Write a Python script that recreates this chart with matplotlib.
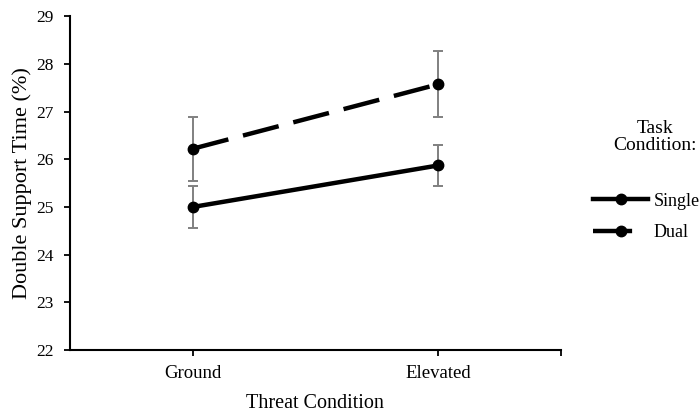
import matplotlib.pyplot as plt
from matplotlib.lines import Line2D

plt.rcParams['font.family'] = ['Liberation Serif', 'DejaVu Serif']

# data
conditions = ['Ground', 'Elevated']
single = [25.0, 25.87]
single_err = [0.43, 0.42]
dual = [26.22, 27.57]
dual_err = [0.67, 0.69]

fig = plt.figure(figsize=(7, 4.12), dpi=100)
ax = fig.add_axes([0.1, 0.15, 0.701, 0.811])

dash = (8.3, 3.4)
x = range(len(conditions))
ax.errorbar(x, single, yerr=single_err, fmt='none', ecolor='#808080',
            elinewidth=1.4, capsize=3.5, capthick=1.4, zorder=1)
ax.errorbar(x, dual, yerr=dual_err, fmt='none', ecolor='#808080',
            elinewidth=1.4, capsize=3.5, capthick=1.4, zorder=1)
ax.plot(x, single, color='black', lw=3.2, marker='o', ms=7.5, zorder=3)
ax.plot(x, dual, color='black', lw=3.2, marker='o', ms=7.5,
        dashes=dash, zorder=3)

ax.set_xlim(-0.5, 1.5)
ax.set_ylim(22, 29)
ax.set_yticks(range(22, 30))
ax.set_xticks([0, 1, 1.5])
ax.set_xticklabels(conditions + [''])
ax.tick_params(axis='both', width=1.3, length=4)
ax.tick_params(axis='x', labelsize=13.5, pad=7)
ax.tick_params(axis='y', labelsize=12.5, pad=8)
for s in ['top', 'right']:
    ax.spines[s].set_visible(False)
for s in ['left', 'bottom']:
    ax.spines[s].set_linewidth(1.5)

ax.set_xlabel('Threat Condition', fontsize=14.5, labelpad=8)
ax.set_ylabel('Double Support Time (%)', fontsize=16, labelpad=3)

# legend
fig.text(655 / 700, 1 - 137 / 412, 'Task\nCondition:', ha='center', va='center',
         fontsize=14, linespacing=1.05)
handles = [Line2D([], [], color='black', lw=3.2, marker='o', ms=7.5),
           Line2D([], [], color='black', lw=3.2, marker='o', ms=7.5, dashes=(8.8, 4.0))]
fig.legend(handles, ['Single', 'Dual'], loc='upper left',
           bbox_to_anchor=(0.824, 0.572), frameon=False, fontsize=13,
           handlelength=3.05, handletextpad=0.3, labelspacing=0.8)

fig.savefig('out.png', dpi=100)
